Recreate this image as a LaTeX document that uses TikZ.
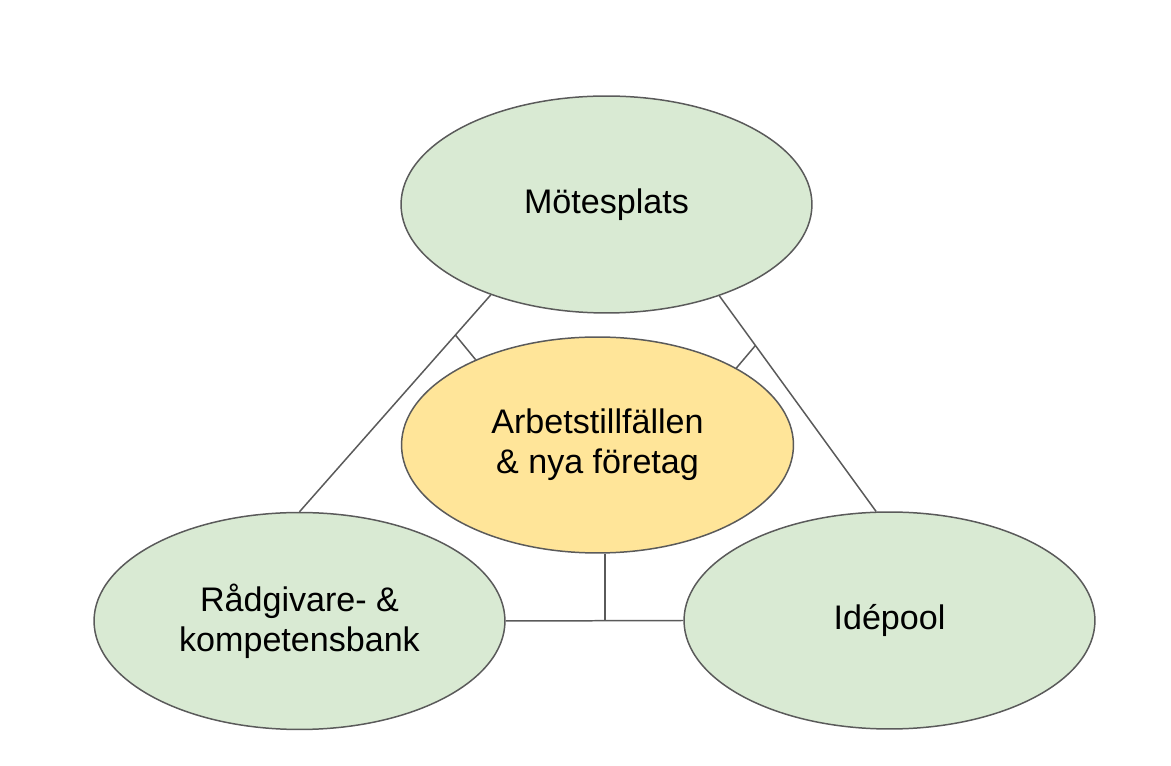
\documentclass[tikz,border=0pt]{standalone}
\usepackage{fontspec}
\setmainfont{Liberation Sans}
\usetikzlibrary{shapes.geometric,calc}

\definecolor{leafgreen}{HTML}{D9EAD3}
\definecolor{sunyellow}{HTML}{FFE599}
\definecolor{rimgray}{RGB}{90,90,90}

\begin{document}
\begin{tikzpicture}
[x=0.02cm,y=-0.02cm,
bubble/.style={shape=ellipse,draw=rimgray,fill=leafgreen,line width=0.85pt,inner sep=0pt,
  minimum width=8.22cm,minimum height=4.34cm,align=center,
  font=\fontsize{19.4}{22.8}\selectfont},
hub/.style={bubble,fill=sunyellow,minimum width=7.84cm,minimum height=4.32cm},
myedge/.style={draw=rimgray,line width=0.85pt}]
\useasboundingbox (0,0) rectangle (1171,766);
%%
\node (mote) [bubble] at (606.5,204.5) {Mötesplats};
\node (rad) [bubble] at (299.5,621) {Rådgivare- \&\\kompetensbank};
\node (ide) [bubble] at (889.5,620.5) {Idépool};
\node (jobb) [hub] at (597.5,445) {Arbetstillfällen\\\& nya företag};
%%
\draw[myedge] (mote.218.9) -- (rad.north);
\draw[myedge] (mote.321.9) -- (ide.97.6);
\draw[myedge] (rad.east) -- (ide.west);
%%
\coordinate (jl) at ($(mote.218.9)!0.185!(rad.north)$);
\coordinate (jr) at ($(mote.321.9)!0.23!(ide.97.6)$);
\coordinate (jb) at (jobb.274.5 |- rad.east);
\draw[myedge] (jobb.145.2) -- (jl);
\draw[myedge] (jobb.29.4) -- (jr);
\draw[myedge] (jobb.274.5) -- (jb);
\end{tikzpicture}
\end{document}
